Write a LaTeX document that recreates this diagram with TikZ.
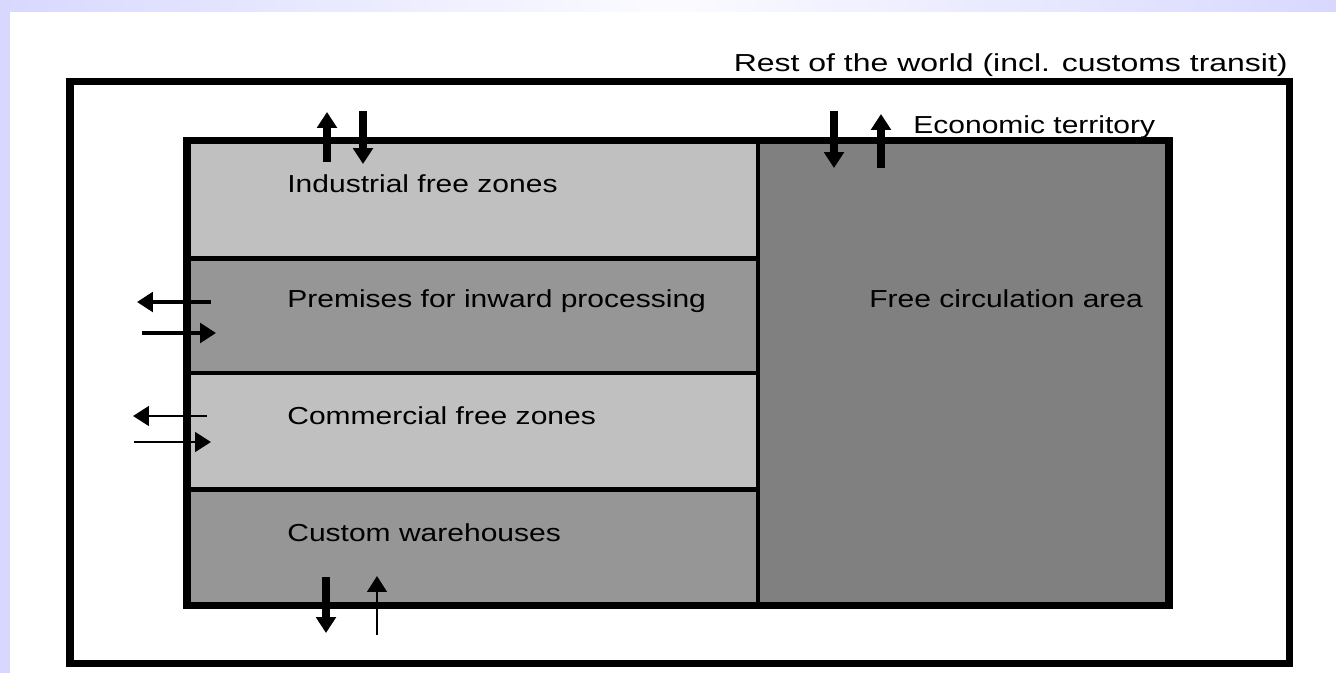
\documentclass[tikz,border=0pt]{standalone}
\usepackage{fontspec}
\setmainfont{Liberation Sans}[FakeStretch=1.22]
\newfontfamily\worldfont{Liberation Sans}[FakeStretch=1.3]
\usepackage{tikz}
\usetikzlibrary{arrows.meta, positioning, fit}
\definecolor{clav}{HTML}{D8D8FF}
\definecolor{clight}{HTML}{C0C0C0}
\definecolor{cmid}{HTML}{969696}
\definecolor{cfree}{HTML}{808080}

\begin{document}
\begin{tikzpicture}[
    x=0.02cm, y=-0.02cm,
    font=\fontsize{14}{16}\selectfont,
    >={Triangle[length=9pt, width=11pt]},
    zone/.style={
        rectangle, draw=black, line width=2.6pt, inner sep=0pt
    },
    frame/.style={draw=black, line width=4.2pt},
    zlabel/.style={anchor=base west, inner sep=0pt},
    flow/.style={->, line width=4pt},
    midflow/.style={->, line width=2.8pt},
    thinflow/.style={->, line width=1.7pt},
]

% --- Page ---------------------------------------------------------------------
\useasboundingbox (0,0) rectangle (1336,673);
\fill[white] (0,0) rectangle (1336,673);
\fill[clav] (0,0) rectangle (10,673);
\shade[left color=clav, right color=clav, middle color=clav!10]
    (0,0) rectangle (1336,11);

% --- Coordinates --------------------------------------------------------------
% Outer frame: rest of the world; inner frame: economic territory
\coordinate (wnw) at (70,81.5);
\coordinate (wse) at (1289.5,663.5);
\coordinate (enw) at (187,140.5);
\coordinate (ese) at (1169,605.5);

% --- Zones --------------------------------------------------------------------
\node[zone, fill=clight, fit={(187,140.5) (758,258.5)}] (ifz) {};
\node[zone, fill=cmid,   fit={(187,258.5) (758,373)}]   (pip) {};
\node[zone, fill=clight, fit={(187,373)   (758,489.5)}] (cfz) {};
\node[zone, fill=cmid,   fit={(187,489.5) (758,605.5)}] (cwh) {};
\node[zone, fill=cfree,  fit={(758,140.5) (1169,605.5)}] (fca) {};

% --- Frames -------------------------------------------------------------------
\node[frame, line width=4.3pt, inner sep=0pt, fit=(wnw)(wse)] (world) {};
\node[frame, line width=4pt, inner sep=0pt, fit=(enw)(ese)] (econ) {};

% --- Labels -------------------------------------------------------------------
\node[zlabel] (ifzl) at (287,192) {Industrial free zones};
\node[zlabel] (pipl) at (287,307) {Premises for inward processing};
\node[zlabel] (cfzl) at (287,424) {Commercial free zones};
\node[zlabel] (cwhl) at (287,541) {Custom warehouses};
\node[zlabel] (fcal) at (869,307) {Free circulation area};
\node[anchor=base east, inner sep=0pt, font=\worldfont\fontsize{14}{16}\selectfont]
    (worldl) at (1288,71) {Rest of the world (incl. customs transit)};
\node[zlabel] (econl) at (913,133) {Economic territory};

% --- Arrow end points ---------------------------------------------------------
\coordinate (ifzin)   at (327,162);  \coordinate (ifzout)  at (327,112);
\coordinate (ifzsrc)  at (363,111);  \coordinate (ifzdst)  at (363,164);
\coordinate (fcasrc)  at (834,111);  \coordinate (fcadst)  at (834,168);
\coordinate (fcain)   at (881,168);  \coordinate (fcaout)  at (881,114);
\coordinate (pipin)   at (211,302);  \coordinate (pipout)  at (137,302);
\coordinate (pipsrc)  at (142,333);  \coordinate (pipdst)  at (216,333);
\coordinate (cfzin)   at (207,416);  \coordinate (cfzout)  at (133,416);
\coordinate (cfzsrc)  at (134,442);  \coordinate (cfzdst)  at (211,442);
\coordinate (cwhin)   at (326,577);  \coordinate (cwhout)  at (326,633);
\coordinate (cwhsrc)  at (377,635);  \coordinate (cwhdst)  at (377,576);

% --- Flows across the borders -------------------------------------------------
\draw[flow]     (ifzin)  -- (ifzout);
\draw[flow]     (ifzsrc) -- (ifzdst);
\draw[flow]     (fcasrc) -- (fcadst);
\draw[flow]     (fcain)  -- (fcaout);
\draw[midflow]  (pipin)  -- (pipout);
\draw[midflow]  (pipsrc) -- (pipdst);
\draw[thinflow] (cfzin)  -- (cfzout);
\draw[thinflow] (cfzsrc) -- (cfzdst);
\draw[flow]     (cwhin)  -- (cwhout);
\draw[thinflow] (cwhsrc) -- (cwhdst);

\end{tikzpicture}
\end{document}
